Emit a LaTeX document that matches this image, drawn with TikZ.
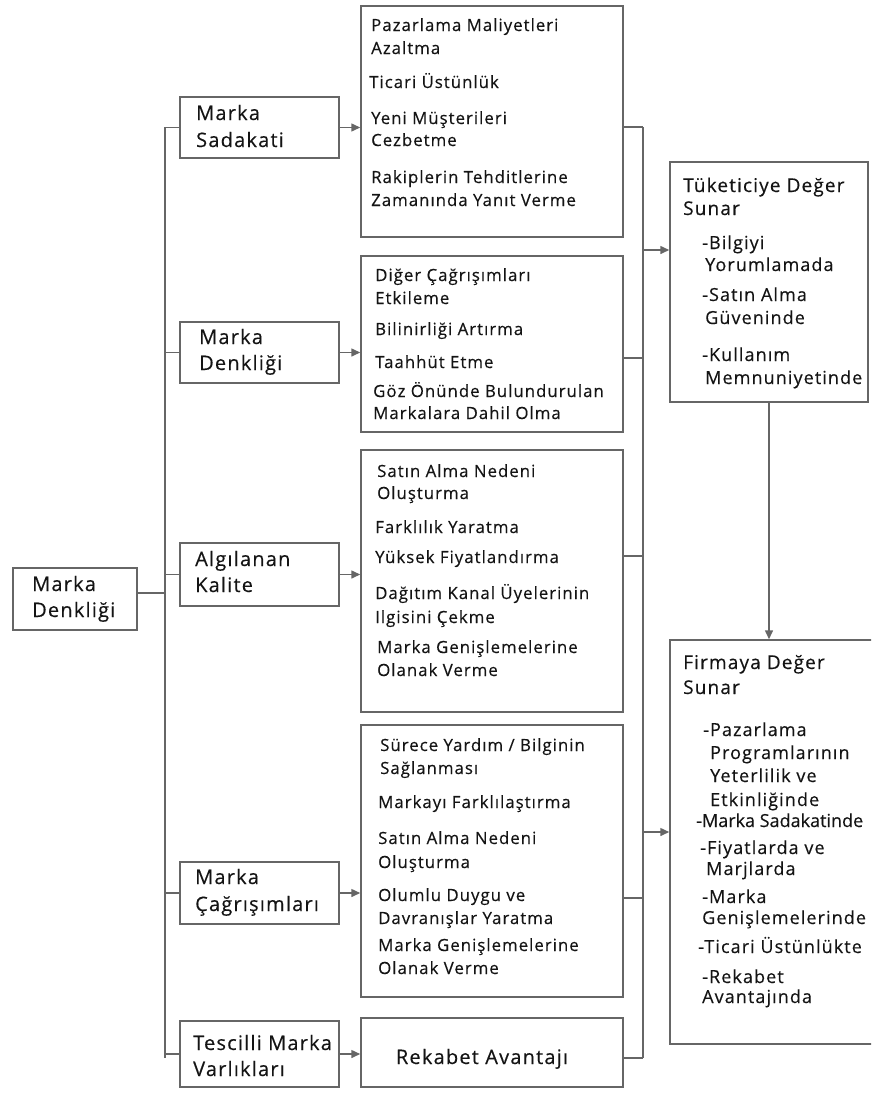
\documentclass[tikz,border=0pt]{standalone}
\usepackage{fontspec}
\setmainfont{Open Sans}[LetterSpace=6,FakeBold=0.3]
\usetikzlibrary{arrows.meta}
\definecolor{linegray}{HTML}{666666}
\definecolor{inkc}{HTML}{141414}
\newcounter{lineno}
% one line of text, left aligned on its baseline
\newcommand\tline[4]{\stepcounter{lineno}%
  \node[#1, anchor=base west] (tl\arabic{lineno}) at (#2,#3) {#4};}
\begin{document}
\begin{tikzpicture}[x=1pt,y=-1pt,
  box/.style={draw=linegray, line width=1.5pt, fill=white, inner sep=0pt},
  conn/.style={draw=linegray, line width=1.5pt},
  arr/.style={conn, -{Triangle[length=9pt,width=8pt]}},
  lvA/.style={inner sep=0pt, text=inkc, font=\fontsize{20}{24}\selectfont},
  lvB/.style={inner sep=0pt, text=inkc, font=\fontsize{16.8}{22}\selectfont},
  lvC/.style={inner sep=0pt, text=inkc, font=\fontsize{19}{22}\selectfont},
  lvD/.style={inner sep=0pt, text=inkc, font=\fontsize{18}{22}\selectfont}]
\useasboundingbox (0,0) rectangle (871,1098);
\fill[white] (0,0) rectangle (871,1098);
\clip (0,0) rectangle (871,1098);

% boxes, given by their corners
\newcommand\boxat[5]{\node[box, minimum width=#4-#2, minimum height=#5-#3] (#1) at ({(#2+#4)/2},{(#3+#5)/2}) {};}
\boxat{root}{13}{568}{137}{630}
\boxat{s1}{180}{97}{339}{158}
\boxat{s2}{180}{322}{339}{383}
\boxat{s3}{180}{543}{339}{606}
\boxat{s4}{180}{862}{339}{924}
\boxat{s5}{180}{1021}{339}{1087}
\boxat{b1}{361}{6}{623}{237}
\boxat{b2}{361}{256}{623}{432}
\boxat{b3}{361}{450}{623}{712}
\boxat{b4}{361}{725}{623}{997}
\boxat{b5}{361}{1018}{623}{1087}
\boxat{tk}{670}{162}{868}{402}
\boxat{fd}{670}{640}{910}{1044}

% bus lines
\coordinate (lbt) at (165,127);
\coordinate (lbb) at (165,1058);
\coordinate (r1) at (643,127);
\coordinate (r2) at (643,358);
\coordinate (r3) at (643,556);
\coordinate (r4) at (643,898);
\coordinate (r5) at (643,1058);
\coordinate (ra) at (643,250);
\coordinate (rb) at (643,832);

\draw[conn] (lbt) -- (lbb);
\draw[conn] ([yshift=6pt]root.east) -- ([yshift=6pt]root.east -| lbt);
\foreach \s in {s1,s2,s3,s4,s5}{
  \draw[conn] (\s.west -| lbt) -- (\s.west);
}
\draw[arr] (s1.east) -- (s1.east -| b1.west);
\draw[arr] (s2.east) -- (s2.east -| b2.west);
\draw[arr] (s3.east) -- (s3.east -| b3.west);
\draw[arr] (s4.east) -- (s4.east -| b4.west);
\draw[arr] (s5.east) -- (s5.east -| b5.west);

\draw[conn] (r1) -- (r5);
\draw[conn] (b1.east |- r1) -- (r1);
\draw[conn] (b2.east |- r2) -- (r2);
\draw[conn] (b3.east |- r3) -- (r3);
\draw[conn] (b4.east |- r4) -- (r4);
\draw[conn] (b5.east |- r5) -- (r5);
\draw[arr] (ra) -- (ra -| tk.west);
\draw[arr] (rb) -- (rb -| fd.west);
\draw[arr] (tk.south) -- (tk.south |- fd.north);

% left column
\tline{lvA}{32}{591}{Marka}
\tline{lvA}{32}{617}{Denkliği}
\tline{lvA}{196}{120}{Marka}
\tline{lvA}{196}{147}{Sadakati}
\tline{lvA}{199}{344}{Marka}
\tline{lvA}{199}{370}{Denkliği}
\tline{lvA}{195}{566}{Algılanan}
\tline{lvA}{195}{592}{Kalite}
\tline{lvA}{195}{884}{Marka}
\tline{lvA}{195}{911}{Çağrışımları}
\tline{lvA}{193}{1050}{Tescilli Marka}
\tline{lvA}{193}{1076}{Varlıkları}

% middle column
\tline{lvB}{371}{31}{Pazarlama Maliyetleri}
\tline{lvB}{371}{54}{Azaltma}
\tline{lvB}{369}{88}{Ticari Üstünlük}
\tline{lvB}{371}{124}{Yeni Müşterileri}
\tline{lvB}{371}{146}{Cezbetme}
\tline{lvB}{371}{183}{Rakiplerin Tehditlerine}
\tline{lvB}{371}{206}{Zamanında Yanıt Verme}

\tline{lvB}{375}{281}{Diğer Çağrışımları}
\tline{lvB}{375}{304}{Etkileme}
\tline{lvB}{375}{335}{Bilinirliği Artırma}
\tline{lvB}{375}{368}{Taahhüt Etme}
\tline{lvB}{373}{397}{Göz Önünde Bulundurulan}
\tline{lvB}{373}{419}{Markalara Dahil Olma}

\tline{lvB}{377}{477}{Satın Alma Nedeni}
\tline{lvB}{377}{499}{Oluşturma}
\tline{lvB}{375}{533}{Farklılık Yaratma}
\tline{lvB}{375}{563}{Yüksek Fiyatlandırma}
\tline{lvB}{375}{599}{Dağıtım Kanal Üyelerinin}
\tline{lvB}{375}{623}{Ilgisini Çekme}
\tline{lvB}{377}{653}{Marka Genişlemelerine}
\tline{lvB}{377}{676}{Olanak Verme}

\tline{lvB}{380}{751}{Sürece Yardım / Bilginin}
\tline{lvB}{380}{774}{Sağlanması}
\tline{lvB}{378}{808}{Markayı Farklılaştırma}
\tline{lvB}{378}{844}{Satın Alma Nedeni}
\tline{lvB}{378}{868}{Oluşturma}
\tline{lvB}{378}{901}{Olumlu Duygu ve}
\tline{lvB}{378}{924}{Davranışlar Yaratma}
\tline{lvB}{378}{951}{Marka Genişlemelerine}
\tline{lvB}{378}{974}{Olanak Verme}

\node[lvA, anchor=base] (rk) at (482,1064) {Rekabet Avantajı};

% right column
\tline{lvC}{683}{192}{Tüketiciye Değer}
\tline{lvC}{683}{215}{Sunar}
\tline{lvD}{702}{249}{-Bilgiyi}
\tline{lvD}{705}{271}{Yorumlamada}
\tline{lvD}{702}{301}{-Satın Alma}
\tline{lvD}{705}{324}{Güveninde}
\tline{lvD}{702}{361}{-Kullanım}
\tline{lvD}{705}{384}{Memnuniyetinde}

\tline{lvC}{683}{669}{Firmaya Değer}
\tline{lvC}{683}{694}{Sunar}
\tline{lvD}{703}{736}{-Pazarlama}
\tline{lvD}{710}{759}{Programlarının}
\tline{lvD}{710}{782}{Yeterlilik ve}
\tline{lvD}{710}{806}{Etkinliğinde}
\tline{lvD}{696}{827}{\addfontfeature{LetterSpace=0}-Marka Sadakatinde}
\tline{lvD}{700}{854}{-Fiyatlarda ve}
\tline{lvD}{706}{875}{Marjlarda}
\tline{lvD}{702}{903}{-Marka}
\tline{lvD}{702}{924}{Genişlemelerinde}
\tline{lvD}{698}{953}{-Ticari Üstünlükte}
\tline{lvD}{702}{983}{-Rekabet}
\tline{lvD}{702}{1003}{Avantajında}
\end{tikzpicture}
\end{document}
